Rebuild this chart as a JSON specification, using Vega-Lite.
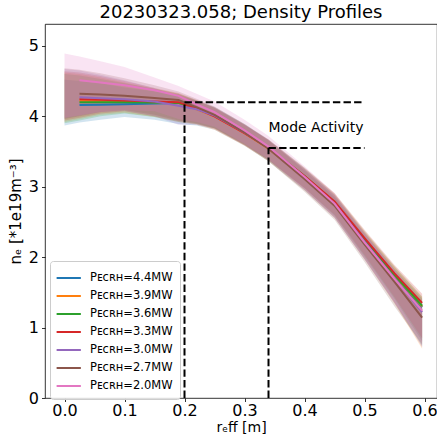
{
  "$schema": "https://vega.github.io/schema/vega-lite/v6.json",
  "autosize": {"type": "none"},
  "padding": {"left": 45, "top": 24, "right": 0, "bottom": 38},
  "width": 392,
  "height": 374,
  "background": "white",
  "title": {
    "text": "20230323.058; Density Profiles",
    "fontSize": 18,
    "fontWeight": "normal",
    "font": "DejaVu Sans",
    "color": "black",
    "offset": 2
  },
  "config": {
    "font": "DejaVu Sans",
    "view": {"stroke": "black", "strokeWidth": 0.8},
    "axis": {
      "domain": false,
      "grid": false,
      "tickColor": "black",
      "tickSize": 3.5,
      "tickWidth": 0.8,
      "labelFont": "DejaVu Sans",
      "labelFontSize": 16,
      "labelColor": "black",
      "labelPadding": 3,
      "titleFont": "DejaVu Sans",
      "titleFontSize": 15,
      "titleFontWeight": "normal",
      "titleColor": "black"
    }
  },
  "datasets": {
    "profiles": [
      {"P": "4.4", "r": 0.0, "ne": null, "lo": 3.87, "hi": 4.52},
      {"P": "4.4", "r": 0.025, "ne": 4.16, "lo": 3.91, "hi": 4.5},
      {"P": "4.4", "r": 0.06, "ne": 4.165, "lo": 3.95, "hi": 4.47},
      {"P": "4.4", "r": 0.1, "ne": 4.17, "lo": 3.99, "hi": 4.41},
      {"P": "4.4", "r": 0.15, "ne": 4.18, "lo": 3.95, "hi": 4.35},
      {"P": "4.4", "r": 0.19, "ne": 4.19, "lo": 3.89, "hi": 4.31},
      {"P": "4.4", "r": 0.22, "ne": 4.11, "lo": 3.87, "hi": 4.22},
      {"P": "4.4", "r": 0.25, "ne": 4.01, "lo": 3.81, "hi": 4.12},
      {"P": "4.4", "r": 0.3, "ne": 3.77, "lo": 3.58, "hi": 3.88},
      {"P": "4.4", "r": 0.34, "ne": 3.55, "lo": 3.36, "hi": 3.66},
      {"P": "4.4", "r": 0.4, "ne": 3.14, "lo": 2.95, "hi": 3.25},
      {"P": "4.4", "r": 0.45, "ne": 2.77, "lo": 2.56, "hi": 2.88},
      {"P": "4.4", "r": 0.5, "ne": 2.23, "lo": 1.97, "hi": 2.34},
      {"P": "4.4", "r": 0.55, "ne": 1.72, "lo": 1.35, "hi": 1.83},
      {"P": "4.4", "r": 0.596, "ne": 1.29, "lo": 0.74, "hi": 1.41},

      {"P": "3.9", "r": 0.0, "ne": null, "lo": 3.92, "hi": 4.62},
      {"P": "3.9", "r": 0.025, "ne": 4.22, "lo": 3.96, "hi": 4.6},
      {"P": "3.9", "r": 0.06, "ne": 4.215, "lo": 4.02, "hi": 4.55},
      {"P": "3.9", "r": 0.1, "ne": 4.21, "lo": 4.05, "hi": 4.48},
      {"P": "3.9", "r": 0.15, "ne": 4.2, "lo": 3.99, "hi": 4.39},
      {"P": "3.9", "r": 0.19, "ne": 4.19, "lo": 3.92, "hi": 4.32},
      {"P": "3.9", "r": 0.22, "ne": 4.1, "lo": 3.88, "hi": 4.22},
      {"P": "3.9", "r": 0.25, "ne": 4.0, "lo": 3.81, "hi": 4.12},
      {"P": "3.9", "r": 0.3, "ne": 3.76, "lo": 3.58, "hi": 3.88},
      {"P": "3.9", "r": 0.34, "ne": 3.54, "lo": 3.36, "hi": 3.66},
      {"P": "3.9", "r": 0.4, "ne": 3.13, "lo": 2.95, "hi": 3.25},
      {"P": "3.9", "r": 0.45, "ne": 2.77, "lo": 2.56, "hi": 2.89},
      {"P": "3.9", "r": 0.5, "ne": 2.24, "lo": 1.97, "hi": 2.36},
      {"P": "3.9", "r": 0.55, "ne": 1.74, "lo": 1.34, "hi": 1.86},
      {"P": "3.9", "r": 0.596, "ne": 1.3, "lo": 0.7, "hi": 1.43},

      {"P": "3.6", "r": 0.0, "ne": null, "lo": 3.9, "hi": 4.6},
      {"P": "3.6", "r": 0.025, "ne": 4.2, "lo": 3.94, "hi": 4.58},
      {"P": "3.6", "r": 0.06, "ne": 4.2, "lo": 4.0, "hi": 4.53},
      {"P": "3.6", "r": 0.1, "ne": 4.2, "lo": 4.04, "hi": 4.47},
      {"P": "3.6", "r": 0.15, "ne": 4.195, "lo": 3.99, "hi": 4.39},
      {"P": "3.6", "r": 0.19, "ne": 4.19, "lo": 3.92, "hi": 4.32},
      {"P": "3.6", "r": 0.22, "ne": 4.11, "lo": 3.89, "hi": 4.23},
      {"P": "3.6", "r": 0.25, "ne": 4.01, "lo": 3.83, "hi": 4.13},
      {"P": "3.6", "r": 0.3, "ne": 3.77, "lo": 3.6, "hi": 3.89},
      {"P": "3.6", "r": 0.34, "ne": 3.55, "lo": 3.38, "hi": 3.67},
      {"P": "3.6", "r": 0.4, "ne": 3.15, "lo": 2.98, "hi": 3.27},
      {"P": "3.6", "r": 0.45, "ne": 2.78, "lo": 2.59, "hi": 2.9},
      {"P": "3.6", "r": 0.5, "ne": 2.25, "lo": 2.01, "hi": 2.37},
      {"P": "3.6", "r": 0.55, "ne": 1.75, "lo": 1.41, "hi": 1.87},
      {"P": "3.6", "r": 0.596, "ne": 1.31, "lo": 0.81, "hi": 1.44},

      {"P": "3.3", "r": 0.0, "ne": null, "lo": 3.94, "hi": 4.64},
      {"P": "3.3", "r": 0.025, "ne": 4.24, "lo": 3.98, "hi": 4.62},
      {"P": "3.3", "r": 0.06, "ne": 4.235, "lo": 4.04, "hi": 4.57},
      {"P": "3.3", "r": 0.1, "ne": 4.225, "lo": 4.07, "hi": 4.5},
      {"P": "3.3", "r": 0.15, "ne": 4.21, "lo": 4.0, "hi": 4.4},
      {"P": "3.3", "r": 0.19, "ne": 4.2, "lo": 3.93, "hi": 4.33},
      {"P": "3.3", "r": 0.22, "ne": 4.11, "lo": 3.89, "hi": 4.23},
      {"P": "3.3", "r": 0.25, "ne": 4.0, "lo": 3.82, "hi": 4.12},
      {"P": "3.3", "r": 0.3, "ne": 3.76, "lo": 3.59, "hi": 3.88},
      {"P": "3.3", "r": 0.34, "ne": 3.55, "lo": 3.38, "hi": 3.67},
      {"P": "3.3", "r": 0.4, "ne": 3.15, "lo": 2.98, "hi": 3.27},
      {"P": "3.3", "r": 0.45, "ne": 2.79, "lo": 2.6, "hi": 2.91},
      {"P": "3.3", "r": 0.5, "ne": 2.27, "lo": 2.03, "hi": 2.39},
      {"P": "3.3", "r": 0.55, "ne": 1.77, "lo": 1.43, "hi": 1.89},
      {"P": "3.3", "r": 0.596, "ne": 1.35, "lo": 0.85, "hi": 1.48},

      {"P": "3.0", "r": 0.0, "ne": null, "lo": 3.97, "hi": 4.67},
      {"P": "3.0", "r": 0.025, "ne": 4.27, "lo": 4.01, "hi": 4.65},
      {"P": "3.0", "r": 0.06, "ne": 4.255, "lo": 4.06, "hi": 4.59},
      {"P": "3.0", "r": 0.1, "ne": 4.24, "lo": 4.08, "hi": 4.51},
      {"P": "3.0", "r": 0.15, "ne": 4.21, "lo": 4.0, "hi": 4.4},
      {"P": "3.0", "r": 0.19, "ne": 4.15, "lo": 3.88, "hi": 4.28},
      {"P": "3.0", "r": 0.22, "ne": 4.1, "lo": 3.88, "hi": 4.22},
      {"P": "3.0", "r": 0.25, "ne": 4.01, "lo": 3.83, "hi": 4.13},
      {"P": "3.0", "r": 0.3, "ne": 3.77, "lo": 3.6, "hi": 3.89},
      {"P": "3.0", "r": 0.34, "ne": 3.55, "lo": 3.38, "hi": 3.67},
      {"P": "3.0", "r": 0.4, "ne": 3.13, "lo": 2.96, "hi": 3.25},
      {"P": "3.0", "r": 0.45, "ne": 2.76, "lo": 2.57, "hi": 2.88},
      {"P": "3.0", "r": 0.5, "ne": 2.22, "lo": 1.98, "hi": 2.34},
      {"P": "3.0", "r": 0.55, "ne": 1.7, "lo": 1.36, "hi": 1.82},
      {"P": "3.0", "r": 0.596, "ne": 1.22, "lo": 0.72, "hi": 1.35},

      {"P": "2.7", "r": 0.0, "ne": null, "lo": 3.96, "hi": 4.68},
      {"P": "2.7", "r": 0.025, "ne": 4.32, "lo": 4.0, "hi": 4.66},
      {"P": "2.7", "r": 0.06, "ne": 4.31, "lo": 4.06, "hi": 4.61},
      {"P": "2.7", "r": 0.1, "ne": 4.29, "lo": 4.09, "hi": 4.54},
      {"P": "2.7", "r": 0.15, "ne": 4.26, "lo": 4.02, "hi": 4.44},
      {"P": "2.7", "r": 0.19, "ne": 4.23, "lo": 3.94, "hi": 4.35},
      {"P": "2.7", "r": 0.22, "ne": 4.13, "lo": 3.9, "hi": 4.25},
      {"P": "2.7", "r": 0.25, "ne": 4.02, "lo": 3.83, "hi": 4.14},
      {"P": "2.7", "r": 0.3, "ne": 3.77, "lo": 3.59, "hi": 3.89},
      {"P": "2.7", "r": 0.34, "ne": 3.54, "lo": 3.36, "hi": 3.66},
      {"P": "2.7", "r": 0.4, "ne": 3.11, "lo": 2.93, "hi": 3.23},
      {"P": "2.7", "r": 0.45, "ne": 2.73, "lo": 2.53, "hi": 2.85},
      {"P": "2.7", "r": 0.5, "ne": 2.18, "lo": 1.93, "hi": 2.3},
      {"P": "2.7", "r": 0.55, "ne": 1.65, "lo": 1.3, "hi": 1.77},
      {"P": "2.7", "r": 0.596, "ne": 1.14, "lo": 0.76, "hi": 1.27},

      {"P": "2.0", "r": 0.0, "ne": null, "lo": 3.98, "hi": 4.89},
      {"P": "2.0", "r": 0.025, "ne": 4.51, "lo": 4.01, "hi": 4.85},
      {"P": "2.0", "r": 0.06, "ne": 4.48, "lo": 4.06, "hi": 4.78},
      {"P": "2.0", "r": 0.1, "ne": 4.44, "lo": 4.09, "hi": 4.7},
      {"P": "2.0", "r": 0.15, "ne": 4.37, "lo": 4.07, "hi": 4.55},
      {"P": "2.0", "r": 0.19, "ne": 4.29, "lo": 3.96, "hi": 4.43},
      {"P": "2.0", "r": 0.22, "ne": 4.17, "lo": 3.92, "hi": 4.32},
      {"P": "2.0", "r": 0.25, "ne": 4.06, "lo": 3.85, "hi": 4.21},
      {"P": "2.0", "r": 0.3, "ne": 3.8, "lo": 3.61, "hi": 3.95},
      {"P": "2.0", "r": 0.34, "ne": 3.57, "lo": 3.39, "hi": 3.72},
      {"P": "2.0", "r": 0.4, "ne": 3.14, "lo": 2.96, "hi": 3.29},
      {"P": "2.0", "r": 0.45, "ne": 2.76, "lo": 2.56, "hi": 2.91},
      {"P": "2.0", "r": 0.5, "ne": 2.21, "lo": 1.97, "hi": 2.35},
      {"P": "2.0", "r": 0.55, "ne": 1.69, "lo": 1.35, "hi": 1.82},
      {"P": "2.0", "r": 0.596, "ne": 1.24, "lo": 0.79, "hi": 1.37}
    ],
    "guides": [
      {"r": 0.2, "r2": 0.2, "n": 0, "n2": 4.2},
      {"r": 0.2, "r2": 0.5, "n": 4.2, "n2": 4.2},
      {"r": 0.34, "r2": 0.34, "n": 0, "n2": 3.55},
      {"r": 0.34, "r2": 0.5, "n": 3.55, "n2": 3.55}
    ],
    "notes": [
      {"r": 0.34, "n": 3.77, "label": "Mode Activity"}
    ]
  },
  "layer": [
    {
      "data": {"name": "profiles"},
      "mark": {"type": "area", "fillOpacity": 0.2},
      "encoding": {
        "x": {
          "field": "r",
          "type": "quantitative",
          "scale": {"domain": [-0.0325, 0.6208], "nice": false, "zero": false},
          "axis": {"values": [0, 0.1, 0.2, 0.3, 0.4, 0.5, 0.6], "format": ".1f", "title": "rₑff [m]", "labelPadding": 0.5, "titlePadding": 2, "titleFontSize": 14}
        },
        "y": {
          "field": "lo",
          "type": "quantitative",
          "scale": {"domain": [0, 5.31], "nice": false, "zero": false},
          "axis": {"values": [0, 1, 2, 3, 4, 5], "format": "d", "title": "nₑ [*1e19m⁻³]", "titlePadding": 5}
        },
        "y2": {"field": "hi"},
        "color": {
          "field": "P",
          "type": "nominal",
          "scale": {
            "domain": ["4.4", "3.9", "3.6", "3.3", "3.0", "2.7", "2.0"],
            "range": ["#1f77b4", "#ff7f0e", "#2ca02c", "#d62728", "#9467bd", "#8c564b", "#e377c2"]
          }
        }
      }
    },
    {
      "data": {"name": "profiles"},
      "mark": {"type": "line", "strokeWidth": 2},
      "encoding": {
        "x": {"field": "r", "type": "quantitative"},
        "y": {"field": "ne", "type": "quantitative"},
        "color": {
          "field": "P",
          "type": "nominal",
          "legend": {
            "orient": "none",
            "legendX": 5,
            "legendY": 237,
            "title": null,
            "symbolType": "M-1.2,0H1.6",
            "symbolStrokeWidth": 2,
            "symbolOpacity": 1,
            "symbolSize": 300,
            "labelFontSize": 11.5,
            "labelColor": "black",
            "labelOffset": 13,
            "labelExpr": "'Pᴇᴄʀʜ=' + datum.label + 'MW'",
            "padding": 7,
            "rowPadding": 2,
            "strokeColor": "#cccccc",
            "fillColor": "rgba(255,255,255,0.8)",
            "cornerRadius": 3,
            "encode": {
              "symbols": {
                "update": {
                  "opacity": {"value": 1},
                  "strokeOpacity": {"value": 1},
                  "fillOpacity": {"value": 0}
                }
              }
            }
          }
        }
      }
    },
    {
      "data": {"name": "guides"},
      "mark": {"type": "rule", "color": "black", "strokeWidth": 2, "strokeDash": [7.4, 3.2]},
      "encoding": {
        "x": {"field": "r", "type": "quantitative"},
        "x2": {"field": "r2"},
        "y": {"field": "n", "type": "quantitative"},
        "y2": {"field": "n2"}
      }
    },
    {
      "data": {"name": "notes"},
      "mark": {"type": "text", "align": "left", "baseline": "alphabetic", "fontSize": 14, "color": "black"},
      "encoding": {
        "x": {"field": "r", "type": "quantitative"},
        "y": {"field": "n", "type": "quantitative"},
        "text": {"field": "label"}
      }
    }
  ]
}
